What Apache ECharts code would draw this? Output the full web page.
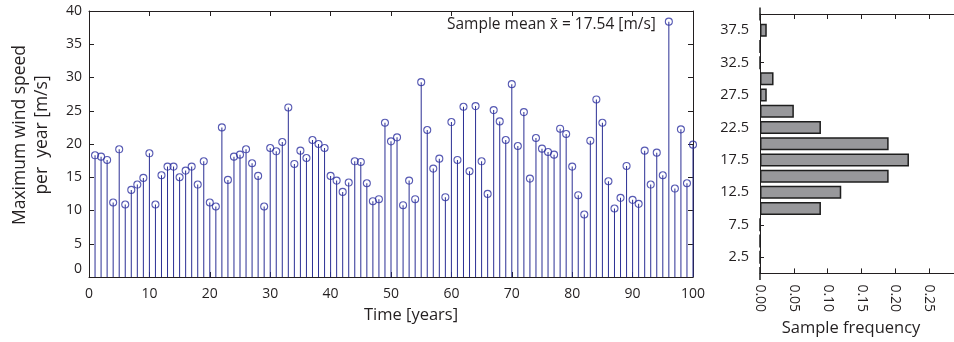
<!DOCTYPE html>
<html>
<head>
<meta charset="utf-8">
<script src="https://cdn.jsdelivr.net/npm/echarts@6/dist/echarts.min.js"></script>
<style>
html,body{margin:0;padding:0;background:#fff;}
#chart{width:954px;height:342px;}
</style>
</head>
<body>
<div id="chart"></div>
<script>
// Years 1..100
const years = Array.from({length: 100}, (_, i) => i + 1);
// Maximum wind speed per year [m/s]
const windSpeed = [
  18.3, 18.1, 17.6, 11.2, 19.2, 10.9, 13.1, 13.9, 14.9, 18.6,
  10.9, 15.3, 16.6, 16.6, 15.0, 16.0, 16.6, 13.9, 17.4, 11.2,
  10.6, 22.5, 14.6, 18.1, 18.4, 19.2, 17.1, 15.2, 10.6, 19.4,
  18.9, 20.3, 25.5, 17.0, 19.0, 17.9, 20.6, 20.0, 19.4, 15.2,
  14.5, 12.8, 14.2, 17.4, 17.3, 14.1, 11.4, 11.7, 23.2, 20.4,
  21.0, 10.8, 14.5, 11.7, 29.3, 22.1, 16.3, 17.8, 12.0, 23.3,
  17.6, 25.6, 15.9, 25.7, 17.4, 12.5, 25.1, 23.4, 20.6, 29.0,
  19.7, 24.8, 14.8, 20.9, 19.3, 18.8, 18.4, 22.3, 21.5, 16.6,
  12.3, 9.4, 20.5, 26.7, 23.2, 14.4, 10.3, 11.9, 16.7, 11.6,
  11.0, 19.0, 13.9, 18.7, 15.3, 38.4, 13.3, 22.2, 14.1, 19.9
];
// Histogram bins (centres, m/s) and sample frequencies
const binCentres = ['0','2.5','5','7.5','10','12.5','15','17.5','20','22.5','25','27.5','30','32.5','35','37.5','40'];
const binFreq =    [0, 0, 0, 0, 0.09, 0.12, 0.19, 0.22, 0.19, 0.09, 0.05, 0.01, 0.02, 0, 0, 0.01, 0];
const meanText = 'Sample mean x\u0304 = 17.54 [m/s]';

const FONT = 'Open Sans';
const INK = '#231f20';
const STEM = '#2b2f94';

const stemData = years.map((y, i) => [y, windSpeed[i]]);

const lineStyle = {color: INK, width: 1};
function frameAxis(extra) {
  return Object.assign({
    axisLine: {show: true, onZero: false, lineStyle: lineStyle},
    axisTick: {show: true, inside: true, length: 5, lineStyle: lineStyle},
    axisLabel: {show: false},
    splitLine: {show: false}
  }, extra);
}

const chart = echarts.init(document.getElementById('chart'), null, {renderer: 'canvas'});
chart.setOption({
  animation: false,
  textStyle: {fontFamily: FONT, color: INK},
  grid: [
    {left: 89, right: 261, top: 11, bottom: 65},
    {left: 760, right: 0, top: 14, bottom: 67}
  ],
  xAxis: [
    frameAxis({
      gridIndex: 0, type: 'value', min: 0, max: 100, interval: 10, position: 'bottom',
      axisLabel: {show: true, color: INK, fontSize: 14, margin: 10, fontFamily: FONT},
      name: 'Time [years]', nameLocation: 'middle', nameGap: 30,
      nameTextStyle: {fontSize: 16.5, color: INK, fontFamily: FONT, padding: [0, 0, 0, 40]}
    }),
    frameAxis({gridIndex: 0, type: 'value', min: 0, max: 100, interval: 10, position: 'top'}),
    frameAxis({
      gridIndex: 1, type: 'value', min: 0, max: 0.2865, interval: 0.05, position: 'bottom',
      axisLabel: {show: true, rotate: -90, color: INK, fontSize: 14, margin: 11, fontFamily: FONT,
        showMaxLabel: false, formatter: v => v.toFixed(2)},
      name: 'Sample frequency', nameLocation: 'middle', nameGap: 46,
      nameTextStyle: {fontSize: 16.5, color: INK, fontFamily: FONT, padding: [0, 12, 0, 0]}
    }),
    frameAxis({gridIndex: 1, type: 'value', min: 0, max: 0.2865, interval: 0.05, position: 'top'})
  ],
  yAxis: [
    frameAxis({
      gridIndex: 0, type: 'value', min: 0, max: 40, interval: 5, position: 'left',
      axisLabel: {show: true, color: INK, fontSize: 14, margin: 7, fontFamily: FONT,
        formatter: v => v === 0 ? '{z|0}' : String(v),
        rich: {z: {fontSize: 14, color: INK, fontFamily: FONT, padding: [0, 0, 16, 0]}}},
      name: 'Maximum wind speed\nper  year [m/s]', nameLocation: 'middle', nameRotate: 90, nameGap: 36,
      nameTextStyle: {fontSize: 17.5, lineHeight: 22, color: INK, fontFamily: FONT, padding: [0, 0, 0, 18]}
    }),
    frameAxis({gridIndex: 0, type: 'value', min: 0, max: 40, interval: 5, position: 'right'}),
    frameAxis({
      gridIndex: 1, type: 'category', data: binCentres, boundaryGap: false, position: 'left',
      axisTick: {show: true, inside: true, length: 4, lineStyle: lineStyle, interval: (i) => i % 2 === 1},
      axisLabel: {show: true, color: INK, fontSize: 14.5, margin: 11, fontFamily: FONT, interval: (i) => i % 2 === 1}
    })
  ],
  series: [
    {
      type: 'bar', xAxisIndex: 0, yAxisIndex: 0, data: stemData, barWidth: 1,
      itemStyle: {color: STEM}, silent: true
    },
    {
      type: 'scatter', xAxisIndex: 0, yAxisIndex: 0, data: stemData, clip: false,
      symbol: 'circle', symbolSize: 7,
      itemStyle: {color: 'rgba(255,255,255,0)', borderColor: '#2d31a0', borderWidth: 1.1},
      silent: true
    },
    {
      type: 'bar', xAxisIndex: 2, yAxisIndex: 2, data: binFreq, barWidth: 13,
      itemStyle: {color: '#98989b', borderColor: '#1e1e1e', borderWidth: 1.5},
      silent: true
    }
  ],
  graphic: [
    {type: 'text', left: 447, top: 17, style: {text: meanText, fontSize: 15.5, fontFamily: FONT, fill: INK}}
  ]
});
</script>
</body>
</html>
